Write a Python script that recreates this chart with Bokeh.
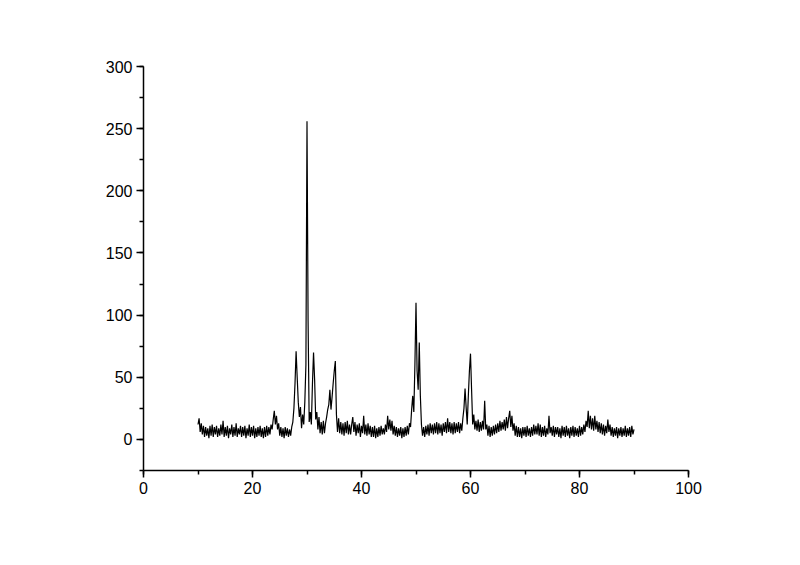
import numpy as np
from bokeh.plotting import figure
from bokeh.models import Range1d, SingleIntervalTicker
from bokeh.embed import file_html
from bokeh.resources import INLINE

# XRD scan: 2-theta from 10 to 90 deg, step 0.2
two_theta_start = 10.0
two_theta_step = 0.2
intensity = [
    12, 17, 6, 13, 4,     # 10
    11, 2, 10, 3, 9,      # 11
    1, 11, 3, 12, 2,      # 12
    10, 4, 11, 2, 9,      # 13
    3, 12, 4, 15, 2,      # 14
    10, 3, 11, 1, 9,      # 15
    4, 12, 2, 10, 3,      # 16
    13, 2, 9, 4, 11,      # 17
    2, 10, 3, 11, 1,      # 18
    9, 3, 12, 2, 10,      # 19
    3, 11, 1, 9, 2,       # 20
    10, 3, 11, 2, 9,      # 21
    1, 10, 2, 11, 3,      # 22
    10, 4, 12, 8, 16,     # 23
    23, 12, 19, 8, 13,    # 24
    3, 10, 2, 9, 1,       # 25
    10, 3, 9, 2, 8,       # 26
    3, 10, 14, 25, 45,    # 27
    71, 50, 30, 18, 26,   # 28
    9, 20, 12, 30, 60,    # 29
    256, 95, 14, 22, 12,  # 30
    45, 70, 48, 16, 22,   # 31
    8, 18, 5, 14, 4,      # 32
    15, 5, 13, 18, 24,    # 33
    28, 40, 24, 34, 45,   # 34
    55, 63, 20, 6, 17,    # 35
    5, 14, 4, 13, 3,      # 36
    14, 5, 15, 4, 12,     # 37
    4, 12, 18, 6, 14,     # 38
    3, 12, 5, 13, 2,      # 39
    11, 5, 19, 4, 12,     # 40
    3, 13, 4, 11, 2,      # 41
    10, 2, 11, 1, 9,      # 42
    2, 10, 3, 11, 4,      # 43
    9, 4, 12, 6, 19,      # 44
    8, 16, 7, 15, 4,      # 45
    11, 3, 10, 2, 9,      # 46
    3, 10, 1, 9, 2,       # 47
    10, 3, 11, 4, 13,     # 48
    10, 24, 35, 22, 60,   # 49
    110, 55, 40, 78, 35,  # 50
    12, 3, 10, 2, 11,     # 51
    4, 12, 3, 13, 5,      # 52
    12, 4, 13, 5, 14,     # 53
    4, 13, 5, 12, 3,      # 54
    13, 6, 14, 5, 17,     # 55
    6, 14, 5, 13, 4,      # 56
    14, 5, 13, 6, 14,     # 57
    5, 13, 7, 17, 25,     # 58
    41, 26, 12, 35, 55,   # 59
    69, 40, 12, 20, 8,    # 60
    15, 7, 16, 6, 14,     # 61
    7, 15, 8, 31, 8,      # 62
    12, 3, 11, 2, 10,     # 63
    3, 11, 4, 12, 5,      # 64
    13, 6, 15, 7, 14,     # 65
    8, 16, 7, 18, 9,      # 66
    17, 23, 10, 19, 7,    # 67
    13, 3, 11, 2, 10,     # 68
    2, 9, 1, 10, 3,       # 69
    10, 2, 11, 3, 9,      # 70
    2, 10, 3, 12, 4,      # 71
    11, 4, 13, 3, 12,     # 72
    2, 10, 3, 11, 2,      # 73
    9, 4, 19, 5, 10,      # 74
    3, 11, 2, 10, 4,      # 75
    10, 2, 9, 1, 11,      # 76
    3, 10, 2, 11, 3,      # 77
    9, 1, 10, 3, 11,      # 78
    2, 10, 3, 9, 2,       # 79
    11, 3, 10, 4, 12,     # 80
    6, 15, 10, 23, 9,     # 81
    19, 8, 17, 7, 19,     # 82
    8, 15, 6, 14, 5,      # 83
    13, 4, 12, 3, 11,     # 84
    5, 16, 6, 12, 3,      # 85
    10, 2, 9, 3, 10,      # 86
    1, 9, 3, 10, 2,       # 87
    9, 3, 11, 2, 9,       # 88
    3, 10, 2, 11, 4,      # 89
    8,                    # 90
]
two_theta = two_theta_start + two_theta_step * np.arange(len(intensity))

p = figure(
    width=790, height=555,
    x_range=Range1d(0, 100), y_range=Range1d(-25, 300),
    output_backend="svg", toolbar_location=None,
    min_border_left=143, min_border_right=102,
    min_border_top=66, min_border_bottom=85,
)
p.line(two_theta, intensity, line_color="black", line_width=1.2)

p.xaxis.ticker = SingleIntervalTicker(interval=20, num_minor_ticks=2)
p.yaxis.ticker = SingleIntervalTicker(interval=50, num_minor_ticks=2)

for ax in (p.xaxis[0], p.yaxis[0]):
    ax.axis_line_width = 1.5
    ax.axis_line_color = "black"
    ax.major_tick_line_color = "black"
    ax.minor_tick_line_color = "black"
    ax.major_tick_line_width = 1.5
    ax.minor_tick_line_width = 1.5
    ax.major_tick_in = 0
    ax.major_tick_out = 7
    ax.minor_tick_in = 0
    ax.minor_tick_out = 4
    ax.major_label_text_font = "Liberation Sans"
    ax.major_label_text_font_size = "16px"
    ax.major_label_text_color = "black"
    ax.major_label_standoff = 4

p.xgrid.visible = False
p.ygrid.visible = False
p.outline_line_color = None
p.background_fill_color = "white"
p.border_fill_color = "white"

open("out.html", "w").write(file_html(p, INLINE))
